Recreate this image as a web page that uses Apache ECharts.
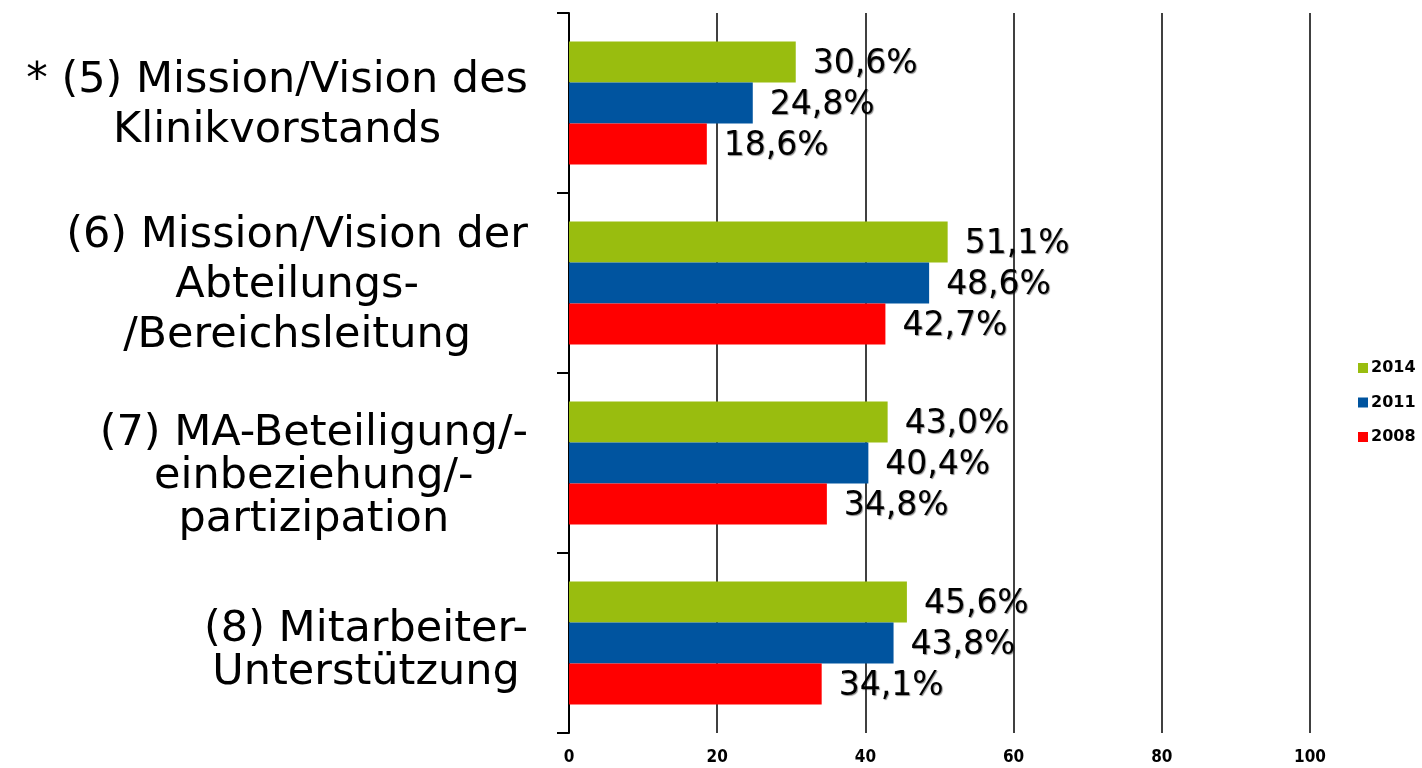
<!DOCTYPE html>
<html>
<head>
<meta charset="utf-8">
<script src="https://cdn.jsdelivr.net/npm/echarts@6/dist/echarts.min.js"></script>
<style>
  html, body { margin: 0; padding: 0; background: #fff; }
  #chart { width: 1422px; height: 768px; }
</style>
</head>
<body>
<div id="chart"></div>
<script>
// Kategorien (von oben nach unten)
var categories = [
  '* (5) Mission/Vision des\nKlinikvorstands',
  '(6) Mission/Vision der\nAbteilungs-\n/Bereichsleitung',
  '(7) MA-Beteiligung/-\neinbeziehung/-\npartizipation',
  '(8) Mitarbeiter-\nUnterstützung'
];
var years = ['2014', '2011', '2008'];
var v2014 = [30.6, 51.1, 43.0, 45.6];
var v2011 = [24.8, 48.6, 40.4, 43.8];
var v2008 = [18.6, 42.7, 34.8, 34.1];
var xTicks = [0, 20, 40, 60, 80, 100];

var colors = ['#99bd0f', '#00549f', '#ff0000'];
var font = '"DejaVu Sans", Verdana, sans-serif';
var narrow = '"Liberation Sans Narrow", "DejaVu Sans Condensed", "DejaVu Sans", sans-serif';

// Zeilenabstand / Verschiebung je Kategorie wie im Original
var lineKey = ['a', 'a', 'b', 'b'];
var shiftKey = ['s1', 's1', 's3', 's4'];
var richStyles = {
  a: { fontSize: 43, lineHeight: 50, align: 'center', fontFamily: font, color: '#000' },
  b: { fontSize: 43, lineHeight: 43, align: 'center', fontFamily: font, color: '#000' },
  s1: { fontSize: 1, lineHeight: 6 },
  s3: { fontSize: 1, lineHeight: 28 },
  s4: { fontSize: 1, lineHeight: 16 }
};

function catLabel(value, index) {
  var key = lineKey[index];
  var lines = value.split('\n').map(function (l) { return '{' + key + '|' + l + '}'; });
  return '{' + shiftKey[index] + '| }\n' + lines.join('\n');
}

function pct(p) {
  return p.value.toFixed(1).replace('.', ',') + '%';
}

var seriesData = [v2014, v2011, v2008];

var chart = echarts.init(document.getElementById('chart'));
chart.setOption({
  animation: false,
  color: colors,
  grid: { left: 569, right: 112, top: 13, bottom: 35 },
  legend: {
    orient: 'vertical',
    left: 1353,
    top: 355,
    itemWidth: 10,
    itemHeight: 10,
    itemGap: 18.5,
    icon: 'rect',
    data: years,
    textStyle: { fontFamily: font, fontWeight: 'bold', fontSize: 16, color: '#000', padding: [0, 0, 0, -2] }
  },
  xAxis: {
    type: 'value',
    min: xTicks[0],
    max: xTicks[xTicks.length - 1],
    interval: 20,
    axisLine: { show: false },
    axisTick: { show: false },
    axisLabel: { margin: 16, fontFamily: narrow, fontWeight: 'bold', fontSize: 17, color: '#000' },
    splitLine: { show: true, lineStyle: { color: '#000', width: 1.5 } }
  },
  yAxis: {
    type: 'category',
    inverse: true,
    data: categories,
    axisLine: { show: true, lineStyle: { color: '#000', width: 2 } },
    axisTick: { show: true, length: 12, lineStyle: { color: '#000', width: 2 } },
    axisLabel: { margin: 41, formatter: catLabel, rich: richStyles, interval: 0 }
  },
  series: years.map(function (y, i) {
    return {
      name: y,
      type: 'bar',
      data: seriesData[i],
      barGap: '0%',
      barCategoryGap: '31.7%',
      label: {
        show: true,
        position: 'right',
        distance: 17,
        offset: [0, 2],
        formatter: pct,
        fontFamily: font,
        fontSize: 33,
        color: '#000',
        textShadowColor: 'rgba(0,0,0,0.45)',
        textShadowBlur: 1,
        textShadowOffsetX: 1,
        textShadowOffsetY: 1
      }
    };
  })
});
</script>
</body>
</html>
